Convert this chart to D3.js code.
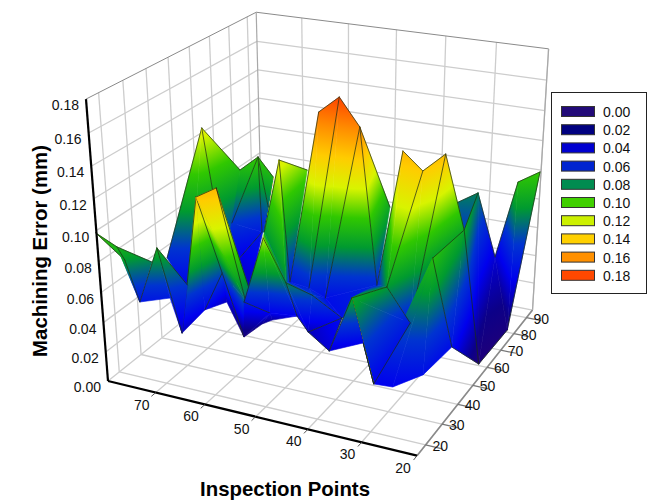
<!DOCTYPE html>
<html>
<head>
<meta charset="utf-8">
<style>
body { margin: 0; background: #fff; }
text { font-family: "Liberation Sans", Arial, sans-serif; fill: #111; }
.tick { font-size: 14px; }
.title { font-size: 20.4px; font-weight: bold; fill: #000; }
</style>
</head>
<body>
<svg width="648" height="501"></svg>
<script src="https://cdn.jsdelivr.net/npm/d3@7"></script>
<script>
// surface vertices (inspection point, second axis, error in mm)
var pointX = [32.9,36.5,28.0,20.4,23.1,19.9,19.5,79.2,78.9,73.4,74.5,68.4,71.7,74.3,70.2,68.3,67.7,65.9,58.2,60.1,
    48.2,54.9,58.3,47.0,42.7,39.7,50.1,47.5,38.8,42.8,33.3,28.7,26.8,30.8,28.7,26.5,24.7,20.0,20.7,24.6,
    27.8,33.1,40.5,35.3,44.8,41.4,48.2,50.2,47.8,58.5,55.1,62.7,59.9,57.6,56.0,53.5,68.4,66.3,63.2,52.8,
    53.0,67.3,79.5,76.8,74.5,75.9,73.4,71.1,71.2,67.9,73.4];
var pointY = [97.1,91.0,93.9,55.2,89.6,93.7,72.3,62.5,42.2,40.2,70.3,49.2,73.3,64.6,70.7,69.7,71.3,52.7,50.3,46.7,
    26.8,46.3,65.6,41.2,39.8,42.0,43.7,45.5,49.8,69.7,46.7,43.6,50.9,30.7,38.1,63.9,37.4,34.6,19.7,15.2,
    14.7,18.6,27.9,31.4,30.9,37.4,37.9,37.4,15.4,31.7,36.1,41.2,43.9,43.4,6.3,9.2,24.7,31.0,32.8,18.6,
    20.9,44.1,13.8,16.6,14.8,22.7,23.8,21.5,26.2,27.1,57.9];
var pointZ = [.075,.07,.035,.008,.095,.10,.012,.125,.055,.035,.092,.025,.10,.06,.05,.07,.09,.03,.125,.08,
    .075,.05,.105,.168,.18,.162,.052,.045,.055,.085,.147,.14,.145,.08,.05,.085,.095,.045,.045,.04,
    .04,.085,.035,.04,.065,.045,.03,.04,.115,.05,.04,.012,.02,.025,.143,.147,.03,.04,.065,.07,
    .075,.03,.10,.09,.085,.048,.075,.088,.05,.06,.03];

// triangles back to front: three vertex numbers and which sides get a dark line (1 ab, 2 bc, 4 ca)
var triangles = [
    [4,5,6,3],[4,6,2,4],[2,6,3,2],[0,2,3,1],[0,3,1,4],
    [7,8,9,1],[7,9,11,4],[7,11,10,4],
    [13,70,11,0],[13,14,70,2],[14,17,70,0],[15,14,17,0],[14,15,19,0],[15,16,19,0],
    [10,12,13,3],[12,14,13,0],[12,15,14,4],[12,16,15,5],
    [18,19,20,1],[18,20,21,4],[18,21,22,4],[19,48,20,0],
    [27,28,45,0],[28,41,45,0],[21,26,44,0],[26,27,44,0],[27,45,44,0],[21,44,20,0],[28,33,41,0],
    [23,24,26,3],[23,26,21,4],[24,25,27,3],[24,27,26,0],[25,28,27,1],[25,29,28,1],
    [30,31,33,3],[30,33,28,4],[31,32,34,3],[31,34,33,0],[32,35,34,1],
    [0,35,3,3],[35,36,37,1],[35,37,3,2],
    [36,34,40,3],[36,40,39,0],[36,39,38,0],[36,38,37,4],
    [41,33,34,3],[41,34,40,4],
    [57,61,58,4],[58,61,51,4],
    [54,56,57,1],[54,57,58,4],[54,59,58,0],[58,59,51,0],[54,55,59,3],[55,60,59,1],
    [48,49,50,1],[48,50,47,0],[48,47,20,6],[49,51,50,4],[50,51,52,0],[50,52,53,0],[50,53,47,0],
    [20,44,46,1],[20,46,47,6],[44,45,46,1],[45,42,46,7],
    [41,43,40,2],[41,42,43,1],
    [62,63,64,7],[63,66,65,1],[63,65,64,2],
    [67,65,68,1],[67,68,56,4],[67,56,69,4]
];

var xTicks = [70,60,50,40,30,20];
var yTicks = [20,30,40,50,60,70,80,90];
var zTicks = [0,.02,.04,.06,.08,.10,.12,.14,.16,.18];
var legendColors = ["#220a78","#000080","#0000d0","#0024d0","#008c50","#40d000","#ccf000","#ffd000","#ff9000","#ff4800"];
var surfaceColors = ["#2c0070","#0c0088","#0000ee","#0034d0","#009a30","#30c800","#d8f400","#ffcc00","#ff8c00","#ff4400"];

var svg = d3.select("svg");

var xScale = d3.scaleLinear().domain([80, 20]).range([0, 1]);
var yScale = d3.scaleLinear().domain([15, 95]).range([0, 1]);
var zScale = d3.scaleLinear().domain([0, .18]).range([0, 1]);

// perspective of the box, from its vanishing points
function project(x, y, z) {
    var X = xScale(x), Y = yScale(y), Z = zScale(z);
    var w = 1 - .08496 * X + .1808 * Y - .0856 * Z;
    return [(108 + 273.6 * X + 201.96 * Y - 29.36 * Z) / w,
            (381 + 35.94 * X - 77.2 * Y - 290.4 * Z) / w];
}

function line3d(a, b, color, width) {
    var p = project(a[0], a[1], a[2]), q = project(b[0], b[1], b[2]);
    return svg.append("line")
        .attr("x1", p[0]).attr("y1", p[1])
        .attr("x2", q[0]).attr("y2", q[1])
        .attr("stroke", color)
        .attr("stroke-width", width);
}

var gridColor = "#cdcdcd";

// floor and walls
xTicks.forEach(function(d) {
    line3d([d, 15, 0], [d, 95, 0], gridColor, 1.3);
    line3d([d, 95, 0], [d, 95, .18], gridColor, 1.3);
});
yTicks.forEach(function(d) {
    line3d([80, d, 0], [20, d, 0], gridColor, 1.3);
    line3d([80, d, 0], [80, d, .18], gridColor, 1.3);
});
zTicks.slice(1, -1).forEach(function(d) {
    line3d([80, 15, d], [80, 95, d], gridColor, 1.3);
    line3d([80, 95, d], [20, 95, d], gridColor, 1.3);
});

// box edges
line3d([80, 15, .18], [80, 95, .18], "#8a8a8a", 1);
line3d([80, 95, .18], [20, 95, .18], "#8a8a8a", 1);
line3d([80, 95, 0], [80, 95, .18], "#a8a8a8", 1.2);
line3d([20, 95, 0], [20, 95, .18], "#a8a8a8", 1.2);
line3d([80, 15, 0], [80, 95, 0], gridColor, 1.3);
line3d([80, 95, 0], [20, 95, 0], gridColor, 1.3);

// surface gradient, shared by every triangle
var defs = svg.append("defs");
defs.append("linearGradient")
    .attr("id", "ramp")
    .selectAll("stop")
    .data(surfaceColors)
    .enter()
        .append("stop")
        .attr("offset", function(d, i) { return i / (surfaceColors.length - 1); })
        .attr("stop-color", function(d) { return d; });

var surface = svg.append("g").attr("class", "surface");

function edgeKey(a, b) { return Math.min(a, b) + "-" + Math.max(a, b); }

// a dark line is drawn with the last triangle sharing its side, so neighbours don't paint over it
var lastOwner = {}, darkEdges = {};
triangles.forEach(function(t, n) {
    [0, 1, 2].forEach(function(side) {
        lastOwner[edgeKey(t[side], t[(side + 1) % 3])] = n;
    });
});

triangles.forEach(function(t, n) {
    var ids = t.slice(0, 3);
    var p = ids.map(function(i) { return project(pointX[i], pointY[i], pointZ[i]); });
    var z = ids.map(function(i) { return pointZ[i]; });

    // screen direction in which the error grows across this triangle
    var ax = p[1][0] - p[0][0], ay = p[1][1] - p[0][1];
    var bx = p[2][0] - p[0][0], by = p[2][1] - p[0][1];
    var dz1 = z[1] - z[0], dz2 = z[2] - z[0];
    var det = ax * by - ay * bx;
    var gx = (dz1 * by - dz2 * ay) / det;
    var gy = (ax * dz2 - bx * dz1) / det;
    var g2 = gx * gx + gy * gy;

    var fill;
    if (g2 > 0 && isFinite(g2)) {
        defs.append("linearGradient")
            .attr("id", "t" + n)
            .attr("href", "#ramp")
            .attr("gradientUnits", "userSpaceOnUse")
            .attr("x1", p[0][0] - gx * z[0] / g2)
            .attr("y1", p[0][1] - gy * z[0] / g2)
            .attr("x2", p[0][0] + gx * (.18 - z[0]) / g2)
            .attr("y2", p[0][1] + gy * (.18 - z[0]) / g2);
        fill = "url(#t" + n + ")";
    } else {
        fill = d3.scaleLinear().domain(zTicks).range(surfaceColors)(z[0]);
    }

    surface.append("path")
        .attr("d", "M" + p.join("L") + "Z")
        .attr("fill", fill)
        .attr("stroke", fill)
        .attr("stroke-width", .6)
        .attr("stroke-linejoin", "round");

    [0, 1, 2].forEach(function(side) {
        var key = edgeKey(t[side], t[(side + 1) % 3]);
        if (t[3] & (1 << side)) darkEdges[key] = true;
        if (darkEdges[key] && lastOwner[key] == n) {
            var q = p[(side + 1) % 3];
            surface.append("line")
                .attr("x1", p[side][0]).attr("y1", p[side][1])
                .attr("x2", q[0]).attr("y2", q[1])
                .attr("stroke", "#1c2c14")
                .attr("stroke-opacity", .8)
                .attr("stroke-width", .9)
                .attr("stroke-linecap", "round");
        }
    });
});

// axes
line3d([20, 15, 0], [20, 95, 0], "#8a8a8a", 1.6);
line3d([80, 15, 0], [80, 15, .18], "#000", 2.2);
line3d([80, 15, 0], [20, 15, 0], "#000", 2.2);

xTicks.forEach(function(d) {
    line3d([d, 15, 0], [d, 13, 0], "#555", 1);
    var p = project(d, 15, 0);
    svg.append("text")
        .attr("class", "tick")
        .attr("x", p[0] - 14)
        .attr("y", p[1] + 17)
        .attr("text-anchor", "middle")
        .text(d);
});
yTicks.forEach(function(d) {
    line3d([20, d, 0], [17, d, 0], "#777", 1.2);
    var p = project(20, d, 0);
    svg.append("text")
        .attr("class", "tick")
        .attr("x", p[0] + 7)
        .attr("y", p[1] + 6)
        .text(d);
});
zTicks.forEach(function(d) {
    var p = project(80, 15, d);
    svg.append("text")
        .attr("class", "tick")
        .attr("x", p[0] - 7)
        .attr("y", p[1] + 11)
        .attr("text-anchor", "end")
        .text(d.toFixed(2));
});

svg.append("text")
    .attr("class", "title")
    .attr("x", 285)
    .attr("y", 496)
    .attr("text-anchor", "middle")
    .text("Inspection Points");

svg.append("text")
    .attr("class", "title")
    .attr("transform", "translate(47,251) rotate(-90)")
    .attr("text-anchor", "middle")
    .text("Machining Error (mm)");

// legend
var legend = svg.append("g").attr("class", "legend");
legend.append("rect")
    .attr("x", 551.5).attr("y", 92.5)
    .attr("width", 95).attr("height", 201)
    .attr("fill", "#fff")
    .attr("stroke", "#222");

var entry = legend.selectAll("g")
    .data(zTicks)
    .enter()
        .append("g")
        .attr("transform", function(d, i) { return "translate(0," + (106 + i * 18.2) + ")"; });

entry.append("rect")
    .attr("x", 561.5).attr("y", .5)
    .attr("width", 33).attr("height", 10)
    .attr("fill", function(d, i) { return legendColors[i]; })
    .attr("stroke", "#333");

entry.append("text")
    .attr("class", "tick")
    .attr("x", 603)
    .attr("y", 11)
    .text(function(d) { return d.toFixed(2); });
</script>
</body>
</html>
